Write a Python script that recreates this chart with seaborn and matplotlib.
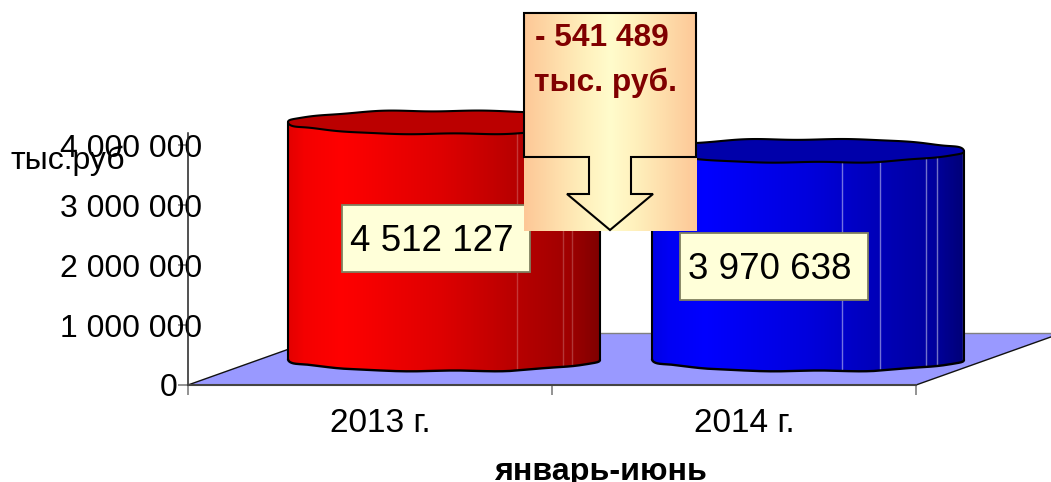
import matplotlib
matplotlib.use("Agg")
import matplotlib.pyplot as plt
import numpy as np
import pandas as pd
import seaborn as sns
from matplotlib.colors import LinearSegmentedColormap
from matplotlib.patches import Polygon, Rectangle

W, H = 1051, 482

# data
categories = ["2013 г.", "2014 г."]
values = [4512127, 3970638]
y_ticks = [0, 1000000, 2000000, 3000000, 4000000]
y_tick_labels = ["", "1 000 000", "2 000 000", "3 000 000", "4 000 000"]
y_unit = "тыс.руб"
x_title = "январь-июнь"

# styles
bar_cmaps = [["#e40000", "#f40000", "#ff0000", "#dd0000", "#b80000", "#a00000", "#800000"],
             ["#0000e4", "#0000f4", "#0000ff", "#0000dd", "#0000b8", "#0000a0", "#000078"]]
cmap_stops = [0.0, 0.05, 0.17, 0.5, 0.73, 0.9, 1.0]
lid_colors = ["#bb0000", "#0000aa"]
facets = [[0.734, 0.881, 0.91], [0.609, 0.731, 0.878, 0.913, 0.996]]
facet_alpha = [0.22, 0.45]
label_boxes = [(342, 205, 188, 67), (680, 233, 188, 67)]

sns.set_style("white")
plt.rcParams["font.family"] = ["Liberation Sans", "DejaVu Sans"]
plt.rcParams["text.color"] = "black"
plt.rcParams["ytick.labelcolor"] = "black"
plt.rcParams["xtick.labelcolor"] = "black"


def add_axes_px(fig, left, top, right, bottom, **kw):
    return fig.add_axes([left / W, 1 - bottom / H, (right - left) / W, (bottom - top) / H], **kw)


fig = plt.figure(figsize=((W + 0.01) / 100, (H + 0.01) / 100), dpi=100)

# floor, in picture pixels
ax_bg = add_axes_px(fig, 0, 0, W, H, zorder=0)
ax_bg.set_xlim(0, W)
ax_bg.set_ylim(H, 0)
ax_bg.axis("off")
ax_bg.add_patch(Polygon([(188, 385), (916, 385), (1062, 333), (334, 333)], closed=True,
                        facecolor="#9999ff", edgecolor="none"))
ax_bg.plot([334, 1062], [333, 333], color="#808080", lw=1)
ax_bg.plot([188, 334], [385, 333], color="#111111", lw=1)
ax_bg.plot([916, 1062], [385, 333], color="#111111", lw=1)

# value axis and category ticks
ax = add_axes_px(fig, 188, 133, 916, 385, zorder=1)
ax.patch.set_alpha(0)
ax.set_xlim(0, len(categories))
ax.set_ylim(0, 4200000)
ax.set_xticks(range(len(categories) + 1), [""] * (len(categories) + 1))
ax.set_yticks(y_ticks, y_tick_labels)
ax.tick_params(axis="y", direction="out", length=7.2, width=1.2, color="#808080", labelsize=23,
               pad=-17.5, left=True)
ax.tick_params(axis="x", direction="out", length=7.2, width=1.2, color="#808080", bottom=True)
sns.despine(ax=ax, top=True, right=True)
ax.spines["left"].set_color("#222222")
ax.spines["left"].set_linewidth(1.1)
ax.spines["bottom"].set_color("#444444")
ax.spines["bottom"].set_linewidth(1.5)
ax.annotate("0", xy=(0, 0), xycoords="data", xytext=(-11, -3), textcoords="offset pixels",
            ha="right", va="center", fontsize=23, annotation_clip=False)
for i, cat in enumerate(categories):
    ax.annotate(cat, xy=(i + 0.5, 0), xycoords="data", xytext=(10, -38), textcoords="offset pixels",
                ha="center", va="center", fontsize=24, annotation_clip=False)

# cylinders: 52.55 px per million, base centre at y=359.5, shifted back by the floor depth
px_per_unit = 52.55 / 1000000
y_low, y_high = -500000, 5000000
ax_bars = add_axes_px(fig, 262, 359.5 - y_high * px_per_unit, 990, 359.5 - y_low * px_per_unit, zorder=2)
df = pd.DataFrame({"period": categories, "value": values})
sns.barplot(data=df, x="period", y="value", ax=ax_bars, width=0.857, color="#cccccc", saturation=1)
ax_bars.set_xlim(-0.5, len(categories) - 0.5)
ax_bars.set_ylim(y_low, y_high)
ax_bars.axis("off")

rim_h = 11.8 / px_per_unit
theta = np.linspace(0, 2 * np.pi, 361)
wobble = (0.5 * np.sin(theta * 7) + 0.35 * np.sin(theta * 11 + 1)) / px_per_unit


def rim(x0, width, level):
    # edge of the elliptical end of a cylinder, slightly uneven as in the source
    xs = x0 + width / 2 - width / 2 * np.cos(theta)
    ys = level + rim_h * np.sin(theta) + wobble
    return xs, ys


for i, bar in enumerate(ax_bars.patches):
    x0, width, top = bar.get_x(), bar.get_width(), bar.get_height()
    bar.set_visible(False)
    xs_top, ys_top = rim(x0, width, top)
    xs_low, ys_low = rim(x0, width, 0)
    n = len(theta) // 2
    # theta 0..pi is the upper half here, pi..2pi the front (lower) half
    body_x = np.r_[xs_top[:n + 1], xs_low[n:], x0 + 0 * width]
    body_y = np.r_[ys_top[:n + 1], ys_low[n:], ys_top[0]]
    body = Polygon(np.c_[body_x, body_y], closed=True, facecolor="none", edgecolor="none")
    ax_bars.add_patch(body)
    cmap = LinearSegmentedColormap.from_list("cyl", list(zip(cmap_stops, bar_cmaps[i])))
    im = ax_bars.imshow(np.linspace(0, 1, 312)[None, :], cmap=cmap, aspect="auto", vmin=0, vmax=1,
                        extent=(x0, x0 + width, y_low, top + rim_h), zorder=3)
    im.set_clip_path(body)
    for f in facets[i]:
        line = ax_bars.plot([x0 + f * width] * 2, [y_low, top], color="white", lw=1,
                            alpha=facet_alpha[i], zorder=4)[0]
        line.set_clip_path(body)
    # sides and front bottom edge
    ax_bars.plot(xs_low[n:], ys_low[n:], color="black", lw=1.7, zorder=5)
    ax_bars.plot([x0, x0], [0, top], color="black", lw=1.5, zorder=5)
    ax_bars.plot([x0 + width, x0 + width], [0, top], color="black", lw=1.5, zorder=5)
    ax_bars.add_patch(Polygon(np.c_[xs_top, ys_top], closed=True, facecolor=lid_colors[i],
                              edgecolor="black", lw=1.5, zorder=5))
ax_bars.set_xlim(-0.5, len(categories) - 0.5)
ax_bars.set_ylim(y_low, y_high)

# labels and callout, in picture pixels
ax_top = add_axes_px(fig, 0, 0, W, H, zorder=3)
ax_top.set_xlim(0, W)
ax_top.set_ylim(H, 0)
ax_top.axis("off")

for val, (bx, by, bw, bh) in zip(values, label_boxes):
    ax_top.add_patch(Rectangle((bx, by), bw, bh, facecolor="#ffffd9", edgecolor="#808060", lw=1.3))
    ax_top.text(bx + bw / 2 - 4, by + bh / 2 + 3, f"{val:,}".replace(",", " "), ha="center", va="center",
                fontsize=26.5, color="black")

left, right, top, mid, bottom = 524, 696, 13, 157, 231
grad = LinearSegmentedColormap.from_list("callout", [(0, "#fdc897"), (0.35, "#fff0bc"), (0.5, "#fffccc"),
                                                     (0.65, "#fff0bc"), (1, "#fdc897")])
ax_top.imshow(np.linspace(0, 1, 172)[None, :], cmap=grad, aspect="auto",
              extent=(left, right, bottom, top), zorder=2)
ax_top.set_xlim(0, W)
ax_top.set_ylim(H, 0)
outline = [(left, top), (right, top), (right, mid), (631, mid), (631, 194), (653, 194), (610, 230),
           (567, 194), (589, 194), (589, mid), (left, mid)]
ax_top.add_patch(Polygon(outline, closed=True, facecolor="none", edgecolor="black", lw=1.5, zorder=3))
diff = values[0] - values[1]
ax_top.text(535, 38, f"- {diff:,}".replace(",", " "), ha="left", va="center", fontsize=22.8,
            fontweight="bold", color="#800000", zorder=4)
ax_top.text(534, 83, "тыс. руб.", ha="left", va="center", fontsize=22.8,
            fontweight="bold", color="#800000", zorder=4)

ax_top.text(68, 161, y_unit, ha="center", va="center", fontsize=23, zorder=4)
ax_top.text(600, 472, x_title, ha="center", va="center", fontsize=23.2, fontweight="bold", zorder=4)

fig.savefig("out.png", dpi=100)
plt.close(fig)
